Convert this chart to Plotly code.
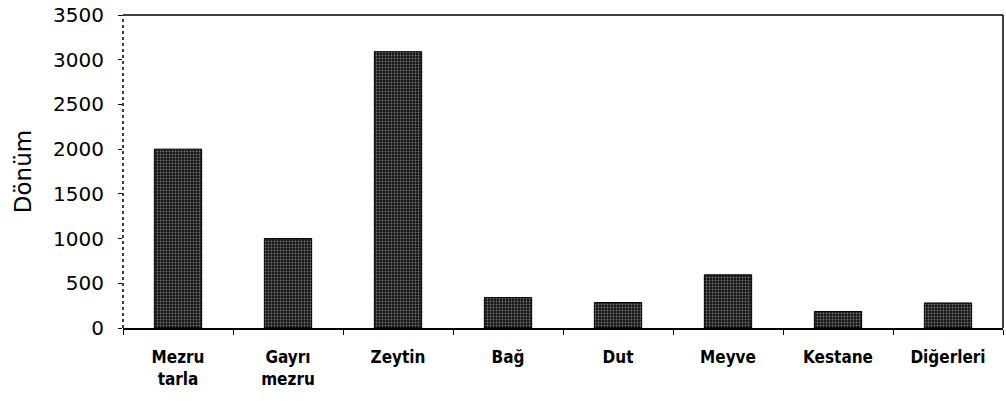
import plotly.graph_objects as go

categories = ["Mezru<br>tarla", "Gayrı<br>mezru", "Zeytin", "Bağ", "Dut", "Meyve", "Kestane", "Diğerleri"]
values = [2000, 1000, 3090, 340, 285, 595, 185, 280]
y_ticks = [0, 500, 1000, 1500, 2000, 2500, 3000, 3500]

fig = go.Figure()
fig.add_trace(go.Bar(
    x=categories, y=values, width=0.43,
    marker=dict(color="#111111", line=dict(width=1, color="#000000"),
                pattern=dict(shape=".", fgcolor="#d8d8d8", bgcolor="#151515", size=3, solidity=0.3)),
))

fig.update_layout(
    width=1006, height=401,
    margin=dict(l=123, r=3, t=15, b=73, autoexpand=False),
    paper_bgcolor="white", plot_bgcolor="white",
    showlegend=False,
    font=dict(family="DejaVu Sans, Liberation Sans", color="black"),
)
fig.update_xaxes(
    showline=True, linecolor="black", linewidth=1.5,
    ticks="outside", tickson="boundaries", ticklen=5, tickcolor="black",
    tickfont=dict(family="DejaVu Sans Condensed, Liberation Sans", size=17, weight="bold"),
    ticklabelstandoff=13,
    showgrid=False,
)
fig.update_yaxes(
    range=[0, 3500], tickvals=y_ticks, ticktext=[str(v) for v in y_ticks],
    showline=False, showgrid=False, zeroline=False,
    ticks="outside", ticklen=4, tickcolor="black",
    tickfont=dict(family="DejaVu Sans", size=20),
    ticklabelstandoff=10, ticklabeloverflow="allow",
    title=dict(text="Dönüm", font=dict(family="DejaVu Sans", size=23), standoff=15),
)
# frame: dotted left, solid top and right
fig.add_shape(type="line", xref="paper", yref="paper", x0=0, x1=0, y0=0, y1=1,
              line=dict(color="black", width=1.5, dash="dot"))
fig.add_shape(type="line", xref="paper", yref="paper", x0=0, x1=1, y0=1, y1=1,
              line=dict(color="black", width=1.5))
fig.add_shape(type="line", xref="paper", yref="paper", x0=1, x1=1, y0=0, y1=1,
              line=dict(color="black", width=1.5))

fig.write_html("out.html", config={"displayModeBar": False},
               post_script="document.body.style.margin='0';document.body.style.overflow='hidden';")
